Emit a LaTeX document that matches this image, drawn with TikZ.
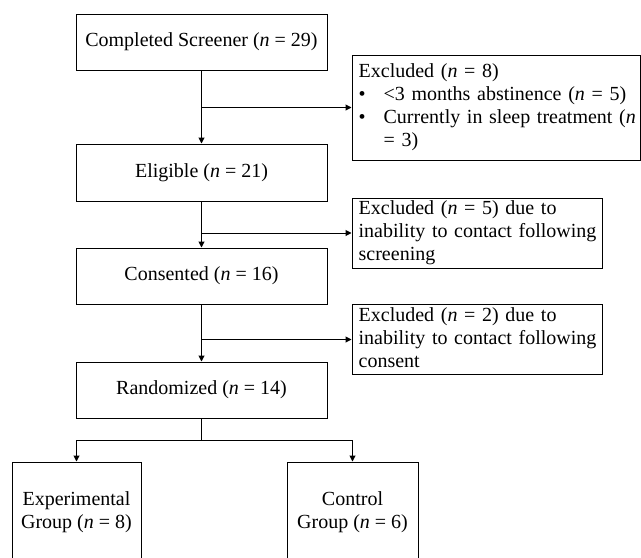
\documentclass[tikz,border=0pt]{standalone}
\usepackage{fontspec}
\setmainfont{Liberation Serif}
\usetikzlibrary{arrows.meta}
\tikzset{
  stagebox/.style={draw, minimum width=188.25pt, minimum height=42pt, inner sep=0pt, align=center},
  exclbox/.style={draw, minimum height=52.5pt, text width=177.5pt, inner xsep=5pt, inner ysep=0pt, align=left},
  groupbox/.style={draw, minimum height=75.75pt, inner sep=0pt, align=center},
  flow/.style={-{Triangle[length=4.5pt,width=4.5pt]}},
}
\begin{document}
\begin{tikzpicture}[x=0.75pt, y=-0.75pt, font=\fontsize{15pt}{17.25pt}\selectfont, line width=0.75pt]
  \useasboundingbox (0,0) rectangle (641,557);
  \clip (0,0) rectangle (641,557);
  \node[stagebox] (screener) at (201.5,42) {Completed Screener (\textit{n} = 29)};
  \node[stagebox, minimum height=42.75pt] (eligible) at (201.5,172.5) {Eligible (\textit{n} = 21)};
  \node[stagebox] (consented) at (201.5,276) {Consented (\textit{n} = 16)};
  \node[stagebox] (randomized) at (201.5,390) {Randomized (\textit{n} = 14)};
  \node[exclbox, text width=206pt, minimum height=78.75pt] (exclScreen) at (496,107.5) {\begin{tabular}{@{}l@{}}
    Excluded (\textit{n} = 8)\\
    \makebox[18.75pt][l]{\textbullet}<3 months abstinence (\textit{n} = 5)\\
    \makebox[18.75pt][l]{\textbullet}Currently in sleep treatment (\textit{n}\\
    \hspace*{18.75pt}= 3)
  \end{tabular}};
  \node[exclbox] (exclEligible) at (477,233) {\begin{tabular}{@{}l@{}}
    Excluded (\textit{n} = 5) due to\\inability to contact following\\screening
  \end{tabular}};
  \node[exclbox] (exclConsent) at (477,339.5) {\begin{tabular}{@{}l@{}}
    Excluded (\textit{n} = 2) due to\\inability to contact following\\consent
  \end{tabular}};
  \node[groupbox, minimum width=96.75pt] (experimental) at (76.5,512.5) {Experimental\\Group (\textit{n} = 8)};
  \node[groupbox, minimum width=98.25pt] (control) at (352.5,512.5) {Control\\Group (\textit{n} = 6)};

  \coordinate (splitScreen) at (screener.south |- exclScreen.west);
  \coordinate (splitEligible) at (eligible.south |- exclEligible.west);
  \coordinate (splitConsent) at (consented.south |- exclConsent.west);
  \coordinate (fork) at (201.5,440);

  \draw[flow] (screener) -- (eligible);
  \draw[flow] (eligible) -- (consented);
  \draw[flow] (consented) -- (randomized);
  \draw[flow] (splitScreen) -- (exclScreen);
  \draw[flow] (splitEligible) -- (exclEligible);
  \draw[flow] (splitConsent) -- (exclConsent);
  \draw (randomized) -- (fork);
  \draw[flow] (fork) -| (experimental);
  \draw[flow] (fork) -| (control);
\end{tikzpicture}
\end{document}
